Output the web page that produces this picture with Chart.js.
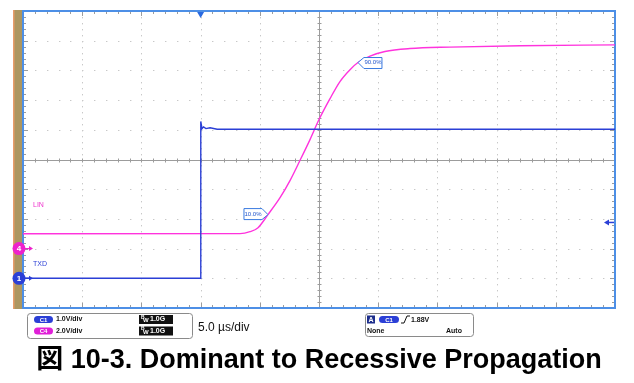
<!DOCTYPE html>
<html>
<head>
<meta charset="utf-8">
<title>Dominant to Recessive Propagation</title>
<script src="https://cdn.jsdelivr.net/npm/chart.js@4.4.0/dist/chart.umd.min.js"></script>
<style>
  html, body { margin: 0; padding: 0; background: #ffffff; }
  canvas { display: block; }
</style>
</head>
<body>
<canvas id="scope" width="634" height="383"></canvas>
<script>
// time in microseconds, trigger at 0 (5 us/div)
const txdTime  = [-15, -0.03, 0.0, 0.03, 0.12, 0.25, 0.45, 0.8, 1.4, 35];
const txdVolts = [0.0, 0.0, 3.2, 5.28, 5.04, 5.1, 5.04, 5.07, 5.02, 5.02];

const linTime  = [-15, 3.33, 4.17, 4.85, 5.69, 6.71, 7.55, 8.39, 9.24, 10.0, 10.93, 11.77, 12.62, 13.29, 14.31, 15.57, 17.68, 21.06, 26.97, 35];
const linVolts = [1.0, 1.01, 1.14, 1.41, 2.29, 3.43, 4.58, 5.93, 7.34, 8.69, 10.1, 11.25, 12.05, 12.53, 12.96, 13.27, 13.47, 13.57, 13.66, 13.72];

// measurement markers (time, volts on LIN)
const markerTime  = [5.69, 13.29];
const markerLevel = [2.29, 12.53];
const markerText  = ["10.0%", "90.0%"];

const channelNames = ["C1", "C4"];
const channelTags  = ["TXD", "LIN"];
const voltsPerDiv  = ["1.0V/div", "2.0V/div"];
const bandwidth    = ["1.0G", "1.0G"];
const timebase     = "5.0 µs/div";
const triggerLevel = 1.88;
const triggerText  = "1.88V";

const BLUE = "#2b3fd6";
const MAGENTA = "#ff33dd";
const FRAME = "#4d8fe6";
const SANS = "'Liberation Sans', Arial, 'Noto Sans CJK JP', sans-serif";

function rrect(ctx, x, y, w, h, r) {
  ctx.beginPath();
  ctx.moveTo(x + r, y);
  ctx.lineTo(x + w - r, y);
  ctx.quadraticCurveTo(x + w, y, x + w, y + r);
  ctx.lineTo(x + w, y + h - r);
  ctx.quadraticCurveTo(x + w, y + h, x + w - r, y + h);
  ctx.lineTo(x + r, y + h);
  ctx.quadraticCurveTo(x, y + h, x, y + h - r);
  ctx.lineTo(x, y + r);
  ctx.quadraticCurveTo(x, y, x + r, y);
  ctx.closePath();
}

function pill(ctx, x, y, w, h, color, text) {
  rrect(ctx, x, y, w, h, h / 2);
  ctx.fillStyle = color;
  ctx.fill();
  ctx.fillStyle = "#ffffff";
  ctx.font = "bold 6px " + SANS;
  ctx.textAlign = "center";
  ctx.textBaseline = "middle";
  ctx.fillText(text, x + w / 2, y + h / 2 + 0.5);
}

// scope graticule, drawn under the traces
const graticule = {
  id: "graticule",
  beforeDatasetsDraw(chart) {
    const { ctx, chartArea: a, scales } = chart;
    const x = scales.x, y = scales.yTxd;
    ctx.save();

    // tan strip at the left
    ctx.fillStyle = "#ad9660";
    ctx.fillRect(13, a.top - 1, 9, a.bottom - a.top + 2);
    ctx.fillStyle = "#e89c6a";
    ctx.fillRect(13, a.top - 1, 1.5, a.bottom - a.top + 2);

    // dotted division lines
    ctx.fillStyle = "#c8c8c8";
    for (let t = -10; t <= 30; t += 5) {
      if (t === 10) continue;
      const px = Math.round(x.getPixelForValue(t));
      for (let i = 1; i < 50; i++) {
        const py = Math.round(y.getPixelForValue(-1 + i * 0.2));
        ctx.fillRect(px, py, 1, 1.4);
      }
    }
    for (let v = 0; v <= 8; v++) {
      if (v === 4) continue;
      const py = Math.round(y.getPixelForValue(v));
      for (let i = 1; i < 50; i++) {
        const px = Math.round(x.getPixelForValue(-15 + i));
        ctx.fillRect(px, py, 1.4, 1);
      }
    }

    // centre cross with minor ticks
    ctx.strokeStyle = "#9c9c9c";
    ctx.lineWidth = 1;
    const cx = Math.round(x.getPixelForValue(10)) + 0.5;
    const cy = Math.round(y.getPixelForValue(4)) + 0.5;
    ctx.beginPath();
    ctx.moveTo(a.left, cy); ctx.lineTo(a.right, cy);
    ctx.moveTo(cx, a.top); ctx.lineTo(cx, a.bottom);
    for (let i = 1; i < 50; i++) {
      const px = Math.round(x.getPixelForValue(-15 + i)) + 0.5;
      ctx.moveTo(px, cy - 2); ctx.lineTo(px, cy + 2);
      const py = Math.round(y.getPixelForValue(-1 + i * 0.2)) + 0.5;
      ctx.moveTo(cx - 2, py); ctx.lineTo(cx + 2, py);
    }
    // minor ticks along the frame
    for (let i = 1; i < 50; i++) {
      const px = Math.round(x.getPixelForValue(-15 + i)) + 0.5;
      const lx = i % 5 === 0 ? 5 : 3;
      ctx.moveTo(px, a.top); ctx.lineTo(px, a.top + lx);
      ctx.moveTo(px, a.bottom); ctx.lineTo(px, a.bottom - lx);
      const py = Math.round(y.getPixelForValue(-1 + i * 0.2)) + 0.5;
      ctx.moveTo(a.left, py); ctx.lineTo(a.left + lx, py);
      ctx.moveTo(a.right, py); ctx.lineTo(a.right - lx, py);
    }
    ctx.stroke();

    // frame
    ctx.strokeStyle = FRAME;
    ctx.lineWidth = 2;
    ctx.strokeRect(a.left, a.top, a.right - a.left, a.bottom - a.top);
    ctx.restore();
  },

  afterDatasetsDraw(chart) {
    const { ctx, chartArea: a, scales } = chart;
    const x = scales.x, yT = scales.yTxd, yL = scales.yLin;
    ctx.save();

    // trigger position marker (top)
    const tx = x.getPixelForValue(0);
    ctx.fillStyle = "#2a6ae0";
    ctx.beginPath();
    ctx.moveTo(tx - 3.5, a.top + 1); ctx.lineTo(tx + 3.5, a.top + 1); ctx.lineTo(tx, a.top + 7);
    ctx.closePath(); ctx.fill();

    // trigger level arrow (right)
    const ly = yT.getPixelForValue(triggerLevel);
    ctx.fillStyle = BLUE; ctx.strokeStyle = BLUE; ctx.lineWidth = 1.5;
    ctx.beginPath();
    ctx.moveTo(a.right - 11, ly); ctx.lineTo(a.right - 6, ly - 3); ctx.lineTo(a.right - 6, ly + 3);
    ctx.closePath(); ctx.fill();
    ctx.beginPath(); ctx.moveTo(a.right - 7, ly); ctx.lineTo(a.right - 1, ly); ctx.stroke();

    // channel ground markers
    const gnd = [[yT.getPixelForValue(0), BLUE, "1"], [yL.getPixelForValue(0), "#ee22cc", "4"]];
    gnd.forEach(([gy, col, lab]) => {
      ctx.fillStyle = col; ctx.strokeStyle = col;
      ctx.beginPath(); ctx.arc(a.left - 4, gy, 6.5, 0, Math.PI * 2); ctx.fill();
      ctx.lineWidth = 1.2;
      ctx.beginPath(); ctx.moveTo(a.left + 2, gy); ctx.lineTo(a.left + 8, gy); ctx.stroke();
      ctx.beginPath(); ctx.moveTo(a.left + 10, gy); ctx.lineTo(a.left + 6, gy - 2.5); ctx.lineTo(a.left + 6, gy + 2.5);
      ctx.closePath(); ctx.fill();
      ctx.fillStyle = "#ffffff";
      ctx.font = "bold 8px " + SANS;
      ctx.textAlign = "center"; ctx.textBaseline = "middle";
      ctx.fillText(lab, a.left - 4, gy + 0.5);
    });

    // trace tags
    ctx.font = "7px " + SANS;
    ctx.textAlign = "left"; ctx.textBaseline = "middle";
    ctx.fillStyle = "#ee33cc";
    ctx.fillText(channelTags[1], a.left + 10, yL.getPixelForValue(2.9));
    ctx.fillStyle = BLUE;
    ctx.fillText(channelTags[0], a.left + 10, yT.getPixelForValue(0.47));

    // 10% / 90% markers
    markerTime.forEach((t, i) => {
      const px = x.getPixelForValue(t), py = yL.getPixelForValue(markerLevel[i]);
      ctx.beginPath();
      let bx;
      if (i === 0) {
        bx = px - 24;
        ctx.moveTo(px, py); ctx.lineTo(px - 6, py - 6); ctx.lineTo(bx, py - 6);
        ctx.lineTo(bx, py + 5); ctx.lineTo(px - 6, py + 5);
      } else {
        bx = px + 6;
        ctx.moveTo(px, py); ctx.lineTo(px + 6, py - 5); ctx.lineTo(px + 24, py - 5);
        ctx.lineTo(px + 24, py + 6); ctx.lineTo(px + 6, py + 6);
      }
      ctx.closePath();
      ctx.fillStyle = "#ffffff"; ctx.fill();
      ctx.strokeStyle = "#3a7ae0"; ctx.lineWidth = 1; ctx.stroke();
      ctx.fillStyle = "#2255cc";
      ctx.font = "6px " + SANS;
      ctx.textAlign = "center"; ctx.textBaseline = "middle";
      ctx.fillText(markerText[i], bx + 9, py);
    });

    // channel info box
    rrect(ctx, 27.5, 313.5, 165, 25, 3);
    ctx.fillStyle = "#ffffff"; ctx.fill();
    ctx.strokeStyle = "#8a8a8a"; ctx.lineWidth = 1; ctx.stroke();
    [[319.5, BLUE], [331, "#e020d8"]].forEach(([ry, col], i) => {
      pill(ctx, 34, ry - 3.5, 19, 7, col, channelNames[i]);
      ctx.fillStyle = "#111111";
      ctx.font = "bold 7px " + SANS;
      ctx.textAlign = "left"; ctx.textBaseline = "middle";
      ctx.fillText(voltsPerDiv[i], 56, ry);
      ctx.fillRect(139, ry - 4.5, 34, 9);
      ctx.fillStyle = "#ffffff";
      ctx.font = "bold 5px " + SANS;
      ctx.fillText("B", 141, ry - 2);
      ctx.font = "bold 6px " + SANS;
      ctx.fillText("W", 143, ry + 1);
      ctx.font = "bold 7px " + SANS;
      ctx.fillText(bandwidth[i], 150, ry);
    });

    ctx.fillStyle = "#111111";
    ctx.font = "12px " + SANS;
    ctx.textAlign = "left"; ctx.textBaseline = "middle";
    ctx.fillText(timebase, 198, 328);

    // trigger info box
    rrect(ctx, 365.5, 313.5, 108, 23, 3);
    ctx.fillStyle = "#ffffff"; ctx.fill();
    ctx.strokeStyle = "#8a8a8a"; ctx.stroke();
    ctx.fillStyle = "#1d2e8c";
    ctx.fillRect(367, 315.5, 8, 8);
    ctx.fillStyle = "#ffffff";
    ctx.font = "bold 7px " + SANS;
    ctx.textAlign = "center";
    ctx.fillText("A", 371, 320);
    pill(ctx, 379, 316, 20, 7, BLUE, channelNames[0]);
    ctx.strokeStyle = "#111111"; ctx.lineWidth = 1;
    ctx.beginPath(); ctx.moveTo(401, 323); ctx.lineTo(404, 323); ctx.lineTo(407, 316); ctx.lineTo(410, 316); ctx.stroke();
    ctx.fillStyle = "#111111";
    ctx.font = "bold 7px " + SANS;
    ctx.textAlign = "left";
    ctx.fillText(triggerText, 411, 320);
    ctx.fillText("None", 367, 331);
    ctx.fillText("Auto", 446, 331);

    ctx.restore();
  }
};

new Chart(document.getElementById("scope"), {
  type: "line",
  data: {
    datasets: [{
      label: channelTags[0],
      data: txdTime.map((t, i) => ({ x: t, y: txdVolts[i] })),
      yAxisID: "yTxd",
      borderColor: BLUE,
      borderWidth: 1.4,
      pointRadius: 0,
      tension: 0
    }, {
      label: channelTags[1],
      data: linTime.map((t, i) => ({ x: t, y: linVolts[i] })),
      yAxisID: "yLin",
      borderColor: MAGENTA,
      borderWidth: 1.4,
      pointRadius: 0,
      cubicInterpolationMode: "monotone"
    }]
  },
  options: {
    responsive: false,
    animation: false,
    layout: { padding: { left: 23, right: 19, top: 11, bottom: 6 } },
    scales: {
      x: { type: "linear", min: -15, max: 35, display: false },
      yTxd: { type: "linear", min: -1, max: 9, display: false },
      yLin: { type: "linear", min: -4, max: 16, display: false }
    },
    plugins: {
      legend: { display: false },
      tooltip: { enabled: false },
      title: {
        display: true,
        position: "bottom",
        text: "図 10-3. Dominant to Recessive Propagation",
        color: "#000000",
        font: { family: SANS, size: 27, weight: "bold", lineHeight: 1.2 },
        padding: { top: 36.6, bottom: 0 }
      }
    }
  },
  plugins: [graticule]
});
</script>
</body>
</html>
